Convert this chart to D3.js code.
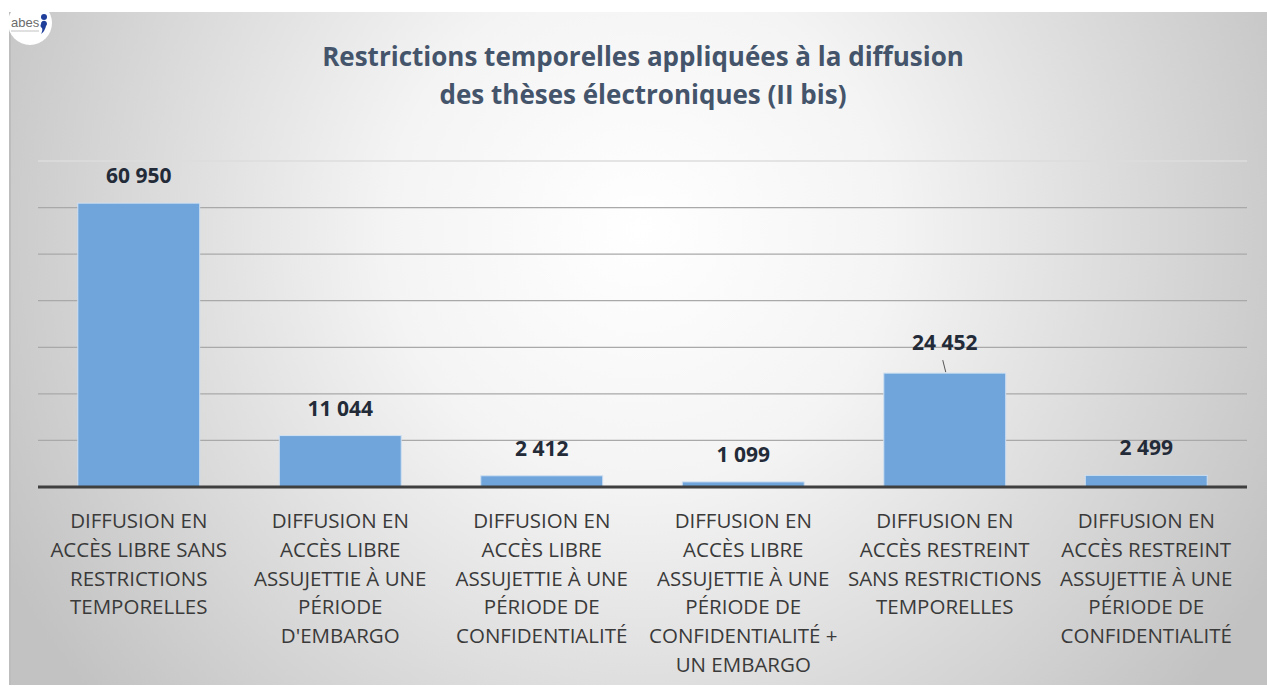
<!DOCTYPE html>
<html>
<head>
<meta charset="utf-8">
<script src="https://cdn.jsdelivr.net/npm/d3@7"></script>
<style>
  html, body { margin: 0; padding: 0; background: #fff; }
  svg { display: block; }
</style>
</head>
<body>
<svg id="chart" width="1267" height="686"></svg>
<script>
/**
 * Data.
 */
const categories = [
    ['DIFFUSION EN', 'ACCÈS LIBRE SANS', 'RESTRICTIONS', 'TEMPORELLES'],
    ['DIFFUSION EN', 'ACCÈS LIBRE', 'ASSUJETTIE À UNE', 'PÉRIODE', "D'EMBARGO"],
    ['DIFFUSION EN', 'ACCÈS LIBRE', 'ASSUJETTIE À UNE', 'PÉRIODE DE', 'CONFIDENTIALITÉ'],
    ['DIFFUSION EN', 'ACCÈS LIBRE', 'ASSUJETTIE À UNE', 'PÉRIODE DE', 'CONFIDENTIALITÉ +', 'UN EMBARGO'],
    ['DIFFUSION EN', 'ACCÈS RESTREINT', 'SANS RESTRICTIONS', 'TEMPORELLES'],
    ['DIFFUSION EN', 'ACCÈS RESTREINT', 'ASSUJETTIE À UNE', 'PÉRIODE DE', 'CONFIDENTIALITÉ']
];
const values = [60950, 11044, 2412, 1099, 24452, 2499];
const gridTicks = [0, 10000, 20000, 30000, 40000, 50000, 60000, 70000];
const titleLines = ['Restrictions temporelles appliquées à la diffusion', 'des thèses électroniques (II bis)'];

/**
 * Visual configs.
 */
const visWidth = 1267, visHeight = 686;
const margin = { top: 161, right: 20, bottom: 199, left: 38 };
const plotRight = 1247;
const height = visHeight - margin.top - margin.bottom;
const fmt = v => d3.format(',')(v).replace(/,/g, ' ');
const movedLabel = 4; // label pulled up with a leader line

const svg = d3.select('#chart');

// Background panel with radial gradient
const defs = svg.append('defs');
const grad = defs.append('radialGradient')
    .attr('id', 'bg')
    .attr('gradientUnits', 'userSpaceOnUse')
    .attr('cx', 640).attr('cy', 230).attr('r', 720);
grad.append('stop').attr('offset', 0).attr('stop-color', '#ffffff');
grad.append('stop').attr('offset', 0.35).attr('stop-color', '#f4f4f4');
grad.append('stop').attr('offset', 1).attr('stop-color', '#c2c2c2');

svg.append('rect')
    .attr('x', 9).attr('y', 12)
    .attr('width', visWidth - 9).attr('height', visHeight - 13)
    .attr('fill', 'url(#bg)');
svg.append('line')
    .attr('x1', 10).attr('x2', 10).attr('y1', 12).attr('y2', visHeight - 1)
    .attr('stroke', '#bdbdbd').attr('stroke-width', 2);

// Logo
const logo = svg.append('g').attr('transform', 'translate(30,23)');
logo.append('circle').attr('r', 22).attr('fill', '#ffffff');
logo.append('text')
    .attr('x', -19).attr('y', 4)
    .attr('font-family', 'Liberation Sans, Arial, sans-serif')
    .attr('font-size', 13)
    .attr('fill', '#6b6b6b')
    .text('abes');
logo.append('circle').attr('cx', 14).attr('cy', -6).attr('r', 3).attr('fill', '#1f3f9a');
logo.append('path')
    .attr('d', 'M11,1 a3,3 0 1,1 5,2 q-1,5 -5,8 q2,-4 1,-6 a3,3 0 0,1 -1,-4z')
    .attr('fill', '#1f3f9a');
logo.append('line')
    .attr('x1', -19).attr('x2', 9).attr('y1', 8).attr('y2', 8)
    .attr('stroke', '#999').attr('stroke-width', 0.6);

// Title
svg.append('text')
    .attr('text-anchor', 'middle')
    .attr('font-family', 'Open Sans, sans-serif')
    .attr('font-weight', 700)
    .attr('font-size', 26)
    .attr('fill', '#44546a')
    .selectAll('tspan')
    .data(titleLines)
    .join('tspan')
    .attr('x', 643)
    .attr('y', (d, i) => 66 + i * 38)
    .text(d => d);

/**
 * Scales.
 */
const xScale = d3.scaleBand()
    .domain(d3.range(values.length))
    .range([margin.left, plotRight])
    .paddingInner(0.395)
    .paddingOuter(0.1975);
const yScale = d3.scaleLinear()
    .domain([0, 70000])
    .range([margin.top + height, margin.top]);

// Grid lines
const grid = svg.append('g').attr('class', 'grid');
grid.selectAll('line')
    .data(gridTicks.slice(1))
    .join('line')
    .attr('x1', margin.left).attr('x2', plotRight)
    .attr('y1', d => yScale(d)).attr('y2', d => yScale(d))
    .attr('stroke', d => d === 70000 ? '#dcdcdc' : '#a9a9a9')
    .attr('stroke-width', 1.3);

// Bars
svg.append('g').attr('class', 'bars')
    .selectAll('rect')
    .data(values)
    .join('rect')
    .attr('x', (d, i) => xScale(i))
    .attr('y', d => yScale(d))
    .attr('width', xScale.bandwidth())
    .attr('height', d => yScale(0) - yScale(d))
    .attr('fill', '#6fa5da')
    .attr('stroke', '#cfe0f2')
    .attr('stroke-width', 1);

// Baseline
svg.append('line')
    .attr('x1', margin.left).attr('x2', plotRight)
    .attr('y1', yScale(0)).attr('y2', yScale(0))
    .attr('stroke', '#3f3f3f').attr('stroke-width', 3);

// Value labels
const labels = svg.append('g').attr('class', 'value-labels');
labels.selectAll('text')
    .data(values)
    .join('text')
    .attr('x', (d, i) => xScale(i) + xScale.bandwidth() / 2)
    .attr('y', (d, i) => yScale(d) - (i === movedLabel ? 23 : 20))
    .attr('text-anchor', 'middle')
    .attr('font-family', 'Open Sans, sans-serif')
    .attr('font-weight', 700)
    .attr('font-size', 21)
    .attr('fill', '#232b38')
    .text(fmt);
labels.append('line')
    .attr('x1', xScale(movedLabel) + xScale.bandwidth() / 2 - 2)
    .attr('x2', xScale(movedLabel) + xScale.bandwidth() / 2 + 1)
    .attr('y1', yScale(values[movedLabel]) - 13)
    .attr('y2', yScale(values[movedLabel]) - 1)
    .attr('stroke', '#555').attr('stroke-width', 1);

// Category labels
const cats = svg.append('g').attr('class', 'categories');
cats.selectAll('text')
    .data(categories)
    .join('text')
    .attr('text-anchor', 'middle')
    .attr('font-family', 'Open Sans, sans-serif')
    .attr('font-size', 20.5)
    .attr('fill', '#3a3a3a')
    .each(function(lines, i) {
        d3.select(this).selectAll('tspan')
            .data(lines)
            .join('tspan')
            .attr('x', xScale(i) + xScale.bandwidth() / 2)
            .attr('y', (d, j) => yScale(0) + 41 + j * 28.8)
            .text(d => d);
    });
</script>
</body>
</html>
